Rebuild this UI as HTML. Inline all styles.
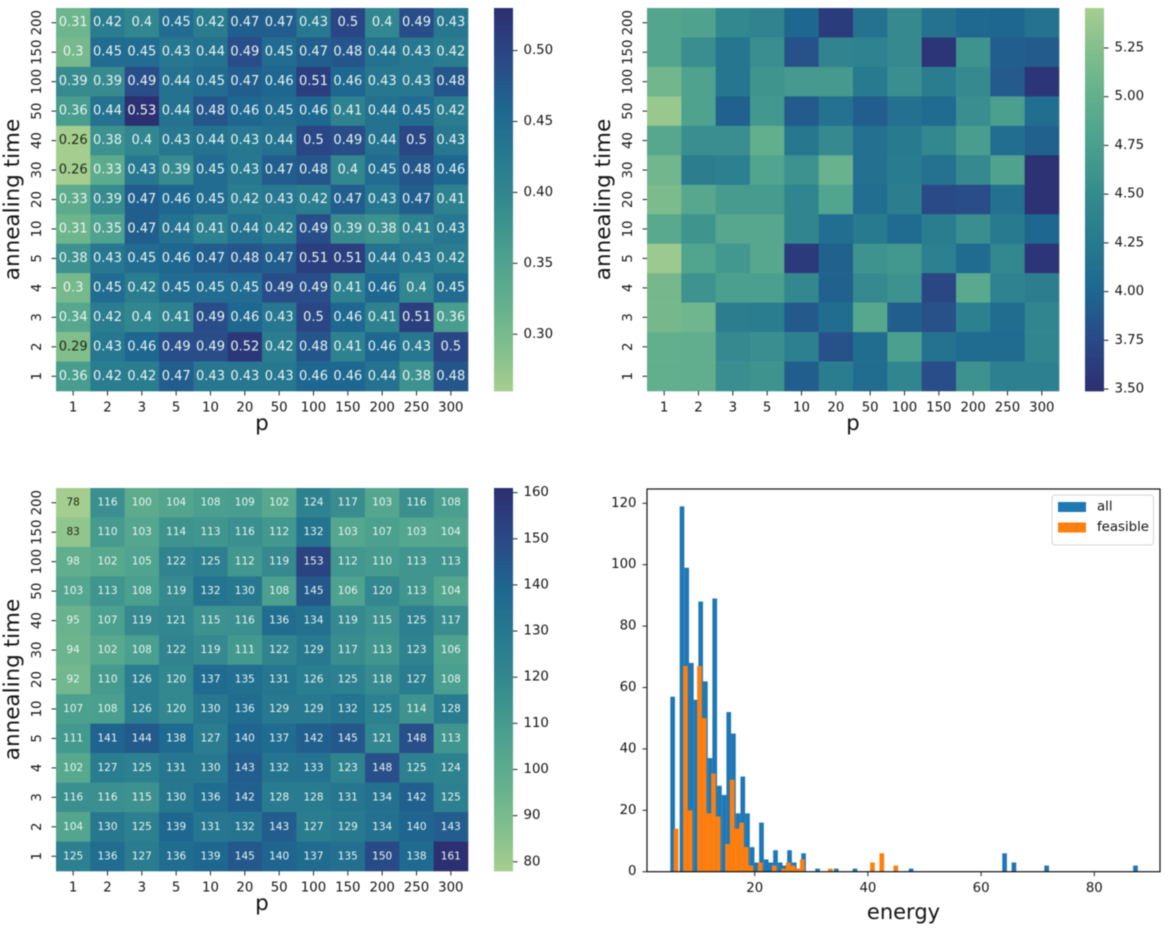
<!DOCTYPE html>
<html>
<head>
<meta charset="utf-8">
<title>Annealing heatmaps and energy histogram</title>
<style>
html,body{margin:0;padding:0;background:#fff;width:1170px;height:929px;overflow:hidden}
svg{display:block;filter:blur(0.45px)}
text{font-family:"DejaVu Sans","Liberation Sans",sans-serif;fill:#141414}
</style>
</head>
<body>
<svg id="fig" xmlns="http://www.w3.org/2000/svg" width="1170" height="929" viewBox="0 0 1170 929"></svg>
<script>
const pLabels = ['1','2','3','5','10','20','50','100','150','200','250','300'];
const annealLabels = ['200','150','100','50','40','30','20','10','5','4','3','2','1'];

const ratioValues = [
[0.31,0.42,0.4,0.45,0.42,0.47,0.47,0.43,0.5,0.4,0.49,0.43],
[0.3,0.45,0.45,0.43,0.44,0.49,0.45,0.47,0.48,0.44,0.43,0.42],
[0.39,0.39,0.49,0.44,0.45,0.47,0.46,0.51,0.46,0.43,0.43,0.48],
[0.36,0.44,0.53,0.44,0.48,0.46,0.45,0.46,0.41,0.44,0.45,0.42],
[0.26,0.38,0.4,0.43,0.44,0.43,0.44,0.5,0.49,0.44,0.5,0.43],
[0.26,0.33,0.43,0.39,0.45,0.43,0.47,0.48,0.4,0.45,0.48,0.46],
[0.33,0.39,0.47,0.46,0.45,0.42,0.43,0.42,0.47,0.43,0.47,0.41],
[0.31,0.35,0.47,0.44,0.41,0.44,0.42,0.49,0.39,0.38,0.41,0.43],
[0.38,0.43,0.45,0.46,0.47,0.48,0.47,0.51,0.51,0.44,0.43,0.42],
[0.3,0.45,0.42,0.45,0.45,0.45,0.49,0.49,0.41,0.46,0.4,0.45],
[0.34,0.42,0.4,0.41,0.49,0.46,0.43,0.5,0.46,0.41,0.51,0.36],
[0.29,0.43,0.46,0.49,0.49,0.52,0.42,0.48,0.41,0.46,0.43,0.5],
[0.36,0.42,0.42,0.47,0.43,0.43,0.43,0.46,0.46,0.44,0.38,0.48]
];
const energyValues = [
[4.85,4.8,4.45,4.4,4.0,3.62,4.15,4.5,4.15,4.02,4.0,4.15],
[4.85,4.55,4.2,4.55,3.82,4.4,4.38,4.5,3.55,4.6,3.92,3.9],
[5.12,4.8,4.2,4.62,4.68,4.68,4.25,4.55,4.3,4.5,3.9,3.55],
[5.38,4.8,3.95,4.65,3.9,4.15,3.92,4.12,4.05,4.55,4.75,4.1],
[4.88,4.55,4.55,5.0,4.22,4.5,4.12,4.25,4.45,4.72,4.1,3.95],
[5.12,4.32,4.35,4.82,4.58,5.05,4.12,4.28,4.15,4.5,4.8,3.52],
[5.2,4.88,4.7,4.7,4.42,4.82,4.1,4.32,3.75,3.78,4.12,3.52],
[4.9,4.62,4.88,4.88,4.42,4.1,4.25,4.05,4.3,4.55,4.25,4.0],
[5.4,4.82,4.65,4.88,3.6,3.95,4.6,4.65,4.35,4.05,4.45,3.55],
[5.15,4.6,4.75,4.75,4.45,3.95,4.48,4.58,3.72,4.9,4.38,4.32],
[5.15,5.1,4.32,4.3,3.88,4.08,4.88,3.92,3.8,4.35,4.08,4.42],
[5.0,4.98,4.5,4.55,4.35,3.82,4.08,4.75,4.15,4.05,4.05,4.42],
[5.0,4.98,4.55,4.6,3.92,4.3,4.08,4.42,3.78,4.58,4.35,4.35]
];
const countValues = [
[78,116,100,104,108,109,102,124,117,103,116,108],
[83,110,103,114,113,116,112,132,103,107,103,104],
[98,102,105,122,125,112,119,153,112,110,113,113],
[103,113,108,119,132,130,108,145,106,120,113,104],
[95,107,119,121,115,116,136,134,119,115,125,117],
[94,102,108,122,119,111,122,129,117,113,123,106],
[92,110,126,120,137,135,131,126,125,118,127,108],
[107,108,126,120,130,136,129,129,132,125,114,128],
[111,141,144,138,127,140,137,142,145,121,148,113],
[102,127,125,131,130,143,132,133,123,148,125,124],
[116,116,115,130,136,142,128,128,131,134,142,125],
[104,130,125,139,131,132,143,127,129,134,140,143],
[125,136,127,136,139,145,140,137,135,150,138,161]
];

const ratioTicks = [0.30,0.35,0.40,0.45,0.50];
const energyTicks = [3.50,3.75,4.00,4.25,4.50,4.75,5.00,5.25];
const countTicks = [80,90,100,110,120,130,140,150,160];
const ratioRange = [0.26,0.53];
const energyRange = [3.49,5.455];
const countRange = [78,161];

const allBinStart = 5.09;
const feasibleBinStart = 5.70;
const binWidth = 0.826;
const allCounts = [57,0,119,99,68,56,88,62,37,89,28,25,52,45,19,31,19,8,3,16,4,3,7,3,2,7,3,1,6,0,0,1,0,0,0,1,0,0,0,1,0,0,0,0,0,0,0,0,0,0,0,1,0,0,0,0,0,0,0,0,0,0,0,0,0,0,0,0,0,0,0,6,0,3,0,0,0,0,0,0,2,0,0,0,0,0,0,0,0,0,0,0,0,0,0,0,0,0,0,2];
const feasibleCounts = [14,0,67,20,0,67,50,19,32,18,0,9,30,14,16,8,2,0,3,0,0,2,0,1,3,2,1,4,0,0,0,0,0,1,0,0,0,0,0,0,0,0,3,0,6,0,0,2];
const histXTicks = [20,40,60,80];
const histYTicks = [0,20,40,60,80,100,120];
const legendLabels = ['all','feasible'];
const xAxisHistTitle = 'energy';

const NS = 'http://www.w3.org/2000/svg';
const fig = document.getElementById('fig');
const stops = [[0,'#a5cd90'],[.1,'#84bf8c'],[.23,'#62af8d'],[.36,'#4a9f8e'],[.5,'#34888f'],[.61,'#287a8f'],[.74,'#1e6790'],[.867,'#2a4a87'],[1,'#2c2f72']];

function hex(c){return [1,3,5].map(i=>parseInt(c.substr(i,2),16));}
function crest(t){
  t=Math.max(0,Math.min(1,t));
  for(let i=1;i<stops.length;i++){
    if(t<=stops[i][0]){
      const a=stops[i-1],b=stops[i],f=(t-a[0])/(b[0]-a[0]);
      const A=hex(a[1]),B=hex(b[1]);
      return 'rgb('+A.map((v,k)=>Math.round(v+(B[k]-v)*f)).join(',')+')';
    }
  }
  return stops[stops.length-1][1];
}
function mk(parent,tag,attrs,txt){
  const el=document.createElementNS(NS,tag);
  for(const k in attrs) el.setAttribute(k,attrs[k]);
  if(txt!==undefined) el.textContent=txt;
  parent.appendChild(el);
  return el;
}
function tickText(g,x,y,txt,size,rot,anchor){
  const attrs={x:x,y:y,'font-size':size,'text-anchor':anchor||'middle','dominant-baseline':'central'};
  if(rot) attrs.transform='rotate(-90 '+x+' '+y+')';
  return mk(g,'text',attrs,txt);
}

function drawHeatmap(cfg){
  const g=mk(fig,'g',{});
  
  
  const W=412,H=383,cw=W/pLabels.length,ch=H/annealLabels.length;
  const sx=i=>cfg.x+i*cw, sy=j=>cfg.y+j*ch;
  const norm=v=>(v-cfg.range[0])/(cfg.range[1]-cfg.range[0]);
  const tone=v=>cfg.reverse?1-norm(v):norm(v);
  cfg.values.forEach((row,j)=>row.forEach((v,i)=>{
    const r=mk(g,'rect',{x:sx(i),y:sy(j),width:cw+0.3,height:ch+0.3,fill:crest(tone(v))});
    
    
    if(cfg.annot){
      const t=mk(g,'text',{x:sx(i)+cw/2,y:sy(j)+ch/2,'font-size':cfg.annot,'text-anchor':'middle','dominant-baseline':'central'},String(v));
      t.style.fill=tone(v)<0.13?'#1e2a14':'#e6f5f2';
      
      
    }
  }));
  pLabels.forEach((l,i)=>{
    const x=sx(i)+cw/2;
    const k=mk(g,'line',{x1:x,x2:x,y1:cfg.y+H,y2:cfg.y+H+4.5,stroke:'#222','stroke-width':1});
    
    
    const t=tickText(g,x,cfg.y+H+17,l,13.3);
    
    
  });
  annealLabels.forEach((l,j)=>{
    const y=sy(j)+ch/2;
    const k=mk(g,'line',{x1:cfg.x-4.5,x2:cfg.x,y1:y,y2:y,stroke:'#222','stroke-width':1});
    
    
    const t=tickText(g,cfg.x-18.5,y,l,13.3,true);
    
    
  });
  const xt=mk(g,'text',{x:cfg.x+W/2,y:cfg.y+H+39,'font-size':21.5,'text-anchor':'middle'},'p');
  
  
  const yx=cfg.x-37, yy=cfg.y+H/2;
  const yt=mk(g,'text',{x:yx,y:yy,'font-size':21.5,'text-anchor':'middle','transform':'rotate(-90 '+yx+' '+yy+')'},'annealing time');
  
  

  const cbx=cfg.x+438, cbw=19;
  const cb=mk(g,'g',{});
  
  
  const n=120;
  for(let s=0;s<n;s++){
    const frac=s/(n-1);
    const seg=mk(cb,'rect',{x:cbx,y:cfg.y+s*H/n,width:cbw,height:H/n+0.4,fill:crest(cfg.reverse?frac:1-frac)});
    
    
  }
  const cy=v=>cfg.y+H*(1-norm(v));
  cfg.ticks.forEach(v=>{
    const y=cy(v);
    const k=mk(cb,'line',{x1:cbx+cbw,x2:cbx+cbw+4.5,y1:y,y2:y,stroke:'#222','stroke-width':1});
    
    
    const t=tickText(cb,cbx+cbw+10.5,y,v.toFixed(cfg.dec),13.3,false,'start');
    
    
  });
}

drawHeatmap({name:'ratio-heatmap',x:56,y:8,values:ratioValues,range:ratioRange,ticks:ratioTicks,dec:2,annot:13,reverse:false});
drawHeatmap({name:'energy-heatmap',x:647,y:8,values:energyValues,range:energyRange,ticks:energyTicks,dec:2,annot:0,reverse:true});
drawHeatmap({name:'count-heatmap',x:56,y:488,values:countValues,range:countRange,ticks:countTicks,dec:0,annot:10.5,reverse:false});

(function(){
  const g=mk(fig,'g',{});
  
  
  const L=647,R=1160,T=489,B=871.7;
  const X=v=>754.7+(v-20)*5.66;
  const Y=v=>B-v*3.07;
  function bars(counts,start,color,name){
    counts.forEach((c,k)=>{
      if(!c) return;
      const x0=X(start+k*binWidth),x1=X(start+(k+1)*binWidth);
      const r=mk(g,'rect',{x:x0,y:Y(c),width:x1-x0,height:B-Y(c),fill:color});
      
      
    });
  }
  bars(allCounts,allBinStart,'#1f77b4','bar-all');
  bars(feasibleCounts,feasibleBinStart,'#ff7f0e','bar-feasible');
  const frame=mk(g,'rect',{x:L,y:T,width:R-L,height:B-T,fill:'none',stroke:'#111','stroke-width':1.2});
  
  
  histXTicks.forEach(v=>{
    const k=mk(g,'line',{x1:X(v),x2:X(v),y1:B,y2:B+4.5,stroke:'#222','stroke-width':1});
    
    
    const t=tickText(g,X(v),B+17,String(v),13.3);
    
    
  });
  histYTicks.forEach(v=>{
    const k=mk(g,'line',{x1:L-4.5,x2:L,y1:Y(v),y2:Y(v),stroke:'#222','stroke-width':1});
    
    
    const t=tickText(g,L-10.5,Y(v),String(v),13.3,false,'end');
    
    
  });
  const xt=mk(g,'text',{x:903.5,y:919,'font-size':21,'text-anchor':'middle'},xAxisHistTitle);
  
  

  const lg=mk(g,'g',{});
  
  
  const box=mk(lg,'rect',{x:1052,y:495,width:101.5,height:50,rx:3,fill:'#fff',stroke:'#d4d4d4','stroke-width':1});
  
  
  ['#1f77b4','#ff7f0e'].forEach((c,i)=>{
    const y=502+i*20.5;
    const s=mk(lg,'rect',{x:1058,y:y,width:28,height:10,fill:c});
    
    
    const t=mk(lg,'text',{x:1097,y:y+5,'font-size':13.3,'dominant-baseline':'central'},legendLabels[i]);
    
    
  });
})();
</script>
</body>
</html>
